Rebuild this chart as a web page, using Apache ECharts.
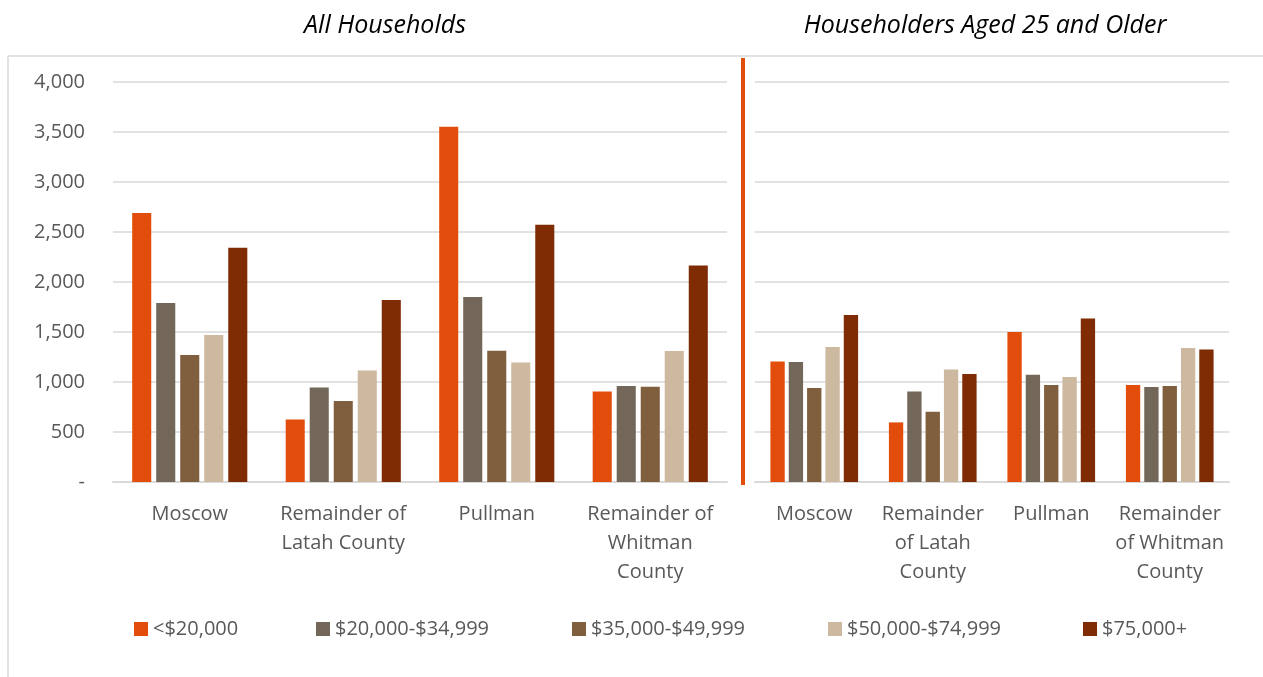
<!DOCTYPE html>
<html>
<head>
<meta charset="utf-8">
<script src="https://cdn.jsdelivr.net/npm/echarts@6/dist/echarts.min.js"></script>
<style>
  html, body { margin: 0; padding: 0; background: #fff; }
  #chart { width: 1263px; height: 677px; }
</style>
</head>
<body>
<div id="chart"></div>
<script>
// 数据
var seriesNames = ['<$20,000', '$20,000-$34,999', '$35,000-$49,999', '$50,000-$74,999', '$75,000+'];
var colors = ['#E34D0B', '#736759', '#7F5F3E', '#CDB8A0', '#7F2C05'];
var leftCategories = ['Moscow', 'Remainder of\nLatah County', 'Pullman', 'Remainder of\nWhitman\nCounty'];
var rightCategories = ['Moscow', 'Remainder\nof Latah\nCounty', 'Pullman', 'Remainder\nof Whitman\nCounty'];

// 所有家庭（每个收入段，按地区）
var allUnder20 = [2690, 625, 3553, 906];
var all20to35 = [1791, 946, 1851, 959];
var all35to50 = [1270, 809, 1313, 952];
var all50to75 = [1470, 1116, 1196, 1310];
var all75plus = [2343, 1821, 2573, 2166];

// 25岁及以上户主
var agedUnder20 = [1206, 596, 1499, 969];
var aged20to35 = [1199, 906, 1073, 949];
var aged35to50 = [939, 703, 969, 959];
var aged50to75 = [1349, 1126, 1049, 1339];
var aged75plus = [1669, 1079, 1636, 1326];

var yMin = 0, yMax = 4000, yStep = 500;

var allData = [allUnder20, all20to35, all35to50, all50to75, all75plus];
var agedData = [agedUnder20, aged20to35, aged35to50, aged50to75, aged75plus];

var chart = echarts.init(document.getElementById('chart'));

var labelFont = { color: '#595959', fontSize: 20, fontFamily: 'Open Sans' };

function yAxis(idx, showLabel) {
    return {
        type: 'value', gridIndex: idx, min: yMin, max: yMax, interval: yStep,
        axisLine: { show: false }, axisTick: { show: false },
        axisLabel: {
            show: showLabel, color: '#595959', fontSize: 20, fontFamily: 'Open Sans', margin: 28,
            formatter: function (v) { return v === 0 ? '-' : v.toLocaleString('en-US'); }
        },
        splitLine: { lineStyle: { color: '#D9D9D9', width: 1.5 } }
    };
}

function xAxis(idx, cats) {
    return {
        type: 'category', gridIndex: idx, data: cats,
        axisLine: { lineStyle: { color: '#D9D9D9', width: 2 } },
        axisTick: { show: false },
        axisLabel: Object.assign({ margin: 18, lineHeight: 29, interval: 0 }, labelFont)
    };
}

var series = [];
seriesNames.forEach(function (name, i) {
    series.push({
        name: name, type: 'bar', xAxisIndex: 0, yAxisIndex: 0, data: allData[i],
        itemStyle: { color: colors[i] }, barGap: '26%', barCategoryGap: '25%'
    });
    series.push({
        name: name, type: 'bar', xAxisIndex: 1, yAxisIndex: 1, data: agedData[i],
        itemStyle: { color: colors[i] }, barGap: '28%', barCategoryGap: '26%'
    });
});

// 图例（每项单独放置）
var legendLeft = [134, 316, 572, 828, 1083];
var legends = seriesNames.map(function (name, i) {
    return {
        data: [name], left: legendLeft[i], top: 619, itemWidth: 14, itemHeight: 14,
        padding: 0, icon: 'rect',
        textStyle: { color: '#595959', fontSize: 20, fontFamily: 'Open Sans' }
    };
});

var titleStyle = { fontStyle: 'italic', fontWeight: 'normal', fontSize: 25, color: '#000', fontFamily: 'Open Sans' };

var option = {
    animation: false,
    title: [
        { text: 'All Households', left: 380, top: 8, textAlign: 'center', textStyle: titleStyle },
        { text: 'Householders Aged 25 and Older', left: 980, top: 8, textAlign: 'center', textStyle: titleStyle }
    ],
    legend: legends,
    grid: [
        { left: 113, right: 536, top: 82, bottom: 195 },
        { left: 755, right: 34, top: 82, bottom: 195 }
    ],
    xAxis: [xAxis(0, leftCategories), xAxis(1, rightCategories)],
    yAxis: [yAxis(0, true), yAxis(1, false)],
    series: series,
    graphic: [
        // 外框
        { type: 'line', shape: { x1: 8, y1: 56, x2: 1263, y2: 56 }, style: { stroke: '#D9D9D9', lineWidth: 1.5 } },
        { type: 'line', shape: { x1: 8, y1: 56, x2: 8, y2: 677 }, style: { stroke: '#D9D9D9', lineWidth: 1.5 } },
        // 分隔线
        { type: 'line', shape: { x1: 743, y1: 58, x2: 743, y2: 485 }, style: { stroke: '#E34D0B', lineWidth: 4 } }
    ]
};

chart.setOption(option);
</script>
</body>
</html>
